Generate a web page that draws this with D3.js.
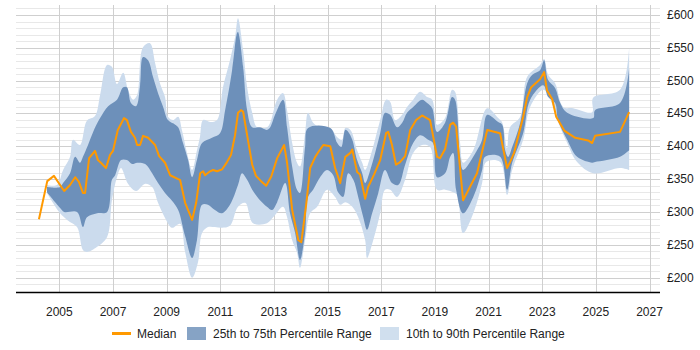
<!DOCTYPE html>
<html>
<head>
<meta charset="utf-8">
<script src="https://cdn.jsdelivr.net/npm/d3@7"></script>
<style>
  html, body { margin: 0; padding: 0; background: #fff; }
  svg { display: block; font-family: "Liberation Sans", Arial, sans-serif; }
</style>
</head>
<body>
<svg id="chart" width="700" height="350"></svg>
<script>
// ---------- DATA (years as decimal, values in £) ----------
const medianDates = [2004.24,2004.55,2004.80,2005.18,2005.40,2005.59,2005.73,2005.88,2005.96,2006.11,2006.33,2006.44,2006.55,2006.74,2006.89,2007.00,2007.18,2007.41,2007.52,2007.67,2007.82,2007.90,2008.01,2008.12,2008.31,2008.57,2008.72,2008.94,2009.13,2009.43,2009.50,2009.69,2009.80,2009.95,2010.10,2010.25,2010.36,2010.43,2010.62,2010.73,2010.88,2011.07,2011.25,2011.40,2011.55,2011.66,2011.77,2011.85,2012.00,2012.19,2012.33,2012.52,2012.71,2012.90,2013.12,2013.38,2013.49,2013.68,2013.91,2014.02,2014.20,2014.35,2014.54,2014.65,2014.84,2015.10,2015.28,2015.47,2015.66,2015.85,2015.92,2016.10,2016.21,2016.40,2016.51,2016.73,2016.96,2017.18,2017.26,2017.40,2017.55,2017.70,2017.89,2018.08,2018.30,2018.52,2018.82,2019.08,2019.19,2019.38,2019.57,2019.68,2019.79,2020.05,2020.57,2020.95,2021.43,2021.69,2021.80,2021.95,2022.29,2022.44,2022.59,2022.92,2023.07,2023.18,2023.37,2023.52,2023.82,2024.23,2024.71,2024.86,2024.97,2025.90,2026.24];
const median = [289,347,355,332,341,353,346,329,329,382,393,379,375,367,387,393,425,443,440,422,413,402,402,416,413,402,385,375,356,350,349,314,303,288,314,359,362,356,362,364,362,365,376,387,417,451,455,453,417,372,355,347,340,354,382,402,375,303,257,254,311,367,384,391,402,400,367,344,384,390,395,361,357,320,338,357,379,420,422,402,372,376,385,425,440,447,440,384,382,396,433,436,430,318,359,425,420,367,376,390,445,475,490,502,513,485,472,445,424,413,409,405,416,422,452];

const p90Dates = [2004.54,2004.91,2005.14,2005.40,2005.51,2005.77,2006.03,2006.33,2006.52,2006.78,2006.96,2007.15,2007.38,2007.56,2007.75,2007.90,2008.12,2008.38,2008.57,2008.75,2008.94,2009.05,2009.24,2009.43,2009.57,2009.76,2009.95,2010.13,2010.24,2010.36,2010.62,2010.88,2011.10,2011.36,2011.55,2011.66,2011.85,2012.00,2012.19,2012.37,2012.74,2012.86,2013.12,2013.34,2013.49,2013.68,2013.86,2013.97,2014.16,2014.27,2014.46,2014.72,2015.10,2015.36,2015.54,2015.66,2015.85,2016.10,2016.29,2016.40,2016.59,2016.96,2017.18,2017.33,2017.52,2017.78,2017.96,2018.19,2018.45,2018.71,2018.90,2019.08,2019.38,2019.64,2019.75,2019.94,2020.05,2020.43,2020.95,2021.36,2021.51,2021.69,2021.80,2022.18,2022.44,2022.92,2023.07,2023.22,2023.48,2023.78,2024.15,2024.86,2024.90,2025.90,2026.24];
const p90 = [341,341,364,384,410,402,439,446,478,524,521,495,512,486,471,478,551,557,527,496,475,445,440,445,425,390,364,394,414,440,437,440,490,531,566,595,547,490,451,429,429,436,471,481,455,405,375,369,420,451,436,429,428,414,410,428,425,394,375,364,384,440,471,468,440,448,460,471,483,475,471,433,443,486,483,405,375,394,458,443,436,397,429,445,506,524,533,509,496,460,458,452,474,486,551];

const p75Dates = [2004.54,2004.84,2005.03,2005.14,2005.40,2005.59,2005.77,2005.88,2006.07,2006.26,2006.52,2006.82,2007.15,2007.38,2007.52,2007.67,2007.86,2008.01,2008.12,2008.31,2008.49,2008.68,2008.87,2009.05,2009.32,2009.43,2009.61,2009.80,2009.95,2010.13,2010.32,2010.69,2010.99,2011.18,2011.44,2011.63,2011.66,2011.85,2012.00,2012.19,2012.48,2012.74,2012.86,2013.04,2013.34,2013.49,2013.68,2013.86,2013.97,2014.16,2014.27,2015.10,2015.36,2015.51,2015.66,2015.77,2015.92,2016.10,2016.29,2016.40,2016.59,2016.96,2017.14,2017.33,2017.59,2017.78,2017.96,2018.19,2018.52,2018.71,2018.90,2019.08,2019.38,2019.64,2019.75,2019.94,2020.05,2020.57,2020.76,2020.95,2021.36,2021.51,2021.62,2021.73,2021.88,2022.18,2022.44,2022.63,2022.92,2023.07,2023.22,2023.48,2023.67,2023.93,2024.90,2024.97,2025.90,2026.24];
const p75 = [338,337,338,344,359,384,375,384,402,422,443,461,471,490,490,466,461,493,536,531,506,481,460,440,433,429,405,379,353,379,405,413,420,455,516,573,574,521,455,429,429,425,429,448,471,429,369,334,329,399,428,428,405,399,425,422,410,379,359,344,364,420,451,448,429,436,451,460,471,466,458,422,436,475,471,384,364,394,410,448,437,433,394,384,399,436,496,509,516,531,501,489,466,451,443,455,466,519];

const p25Dates = [2004.54,2005.03,2005.18,2005.66,2005.88,2006.03,2006.41,2006.78,2006.96,2007.08,2007.30,2007.52,2007.71,2007.90,2008.20,2008.46,2008.68,2008.94,2009.20,2009.43,2009.69,2009.95,2010.13,2010.32,2010.54,2010.80,2011.06,2011.36,2011.66,2011.81,2012.00,2012.19,2012.48,2012.74,2012.93,2013.12,2013.42,2013.60,2013.79,2013.97,2014.16,2014.27,2014.46,2014.72,2014.98,2015.21,2015.39,2015.58,2015.77,2015.96,2016.14,2016.33,2016.47,2016.66,2016.89,2017.14,2017.40,2017.63,2017.89,2018.19,2018.45,2018.75,2018.93,2019.08,2019.38,2019.57,2019.68,2019.79,2020.05,2020.43,2020.76,2020.87,2021.43,2021.69,2021.88,2022.29,2022.55,2023.04,2023.22,2023.48,2023.59,2023.93,2024.30,2024.86,2024.97,2025.90,2026.24];
const p25 = [330,306,300,300,277,292,298,300,349,356,379,379,373,375,373,359,344,329,317,303,263,230,257,311,311,303,298,311,341,359,349,334,318,308,303,315,344,298,268,227,268,323,334,353,364,356,330,323,359,349,323,292,273,298,329,364,344,341,372,405,417,410,405,353,359,384,390,334,298,323,364,384,384,334,375,420,471,493,475,466,440,410,384,375,376,384,394];

const p10Dates = [2004.54,2005.03,2005.29,2005.66,2005.88,2006.03,2006.41,2006.78,2006.96,2007.15,2007.30,2007.56,2007.86,2008.20,2008.46,2008.68,2008.94,2009.20,2009.50,2009.69,2009.95,2010.17,2010.32,2010.54,2010.80,2011.06,2011.36,2011.66,2011.93,2012.22,2012.74,2012.97,2013.34,2013.49,2013.68,2013.86,2013.97,2014.16,2014.35,2014.61,2014.98,2015.28,2015.47,2015.66,2015.92,2016.14,2016.40,2016.47,2016.70,2016.96,2017.14,2017.33,2017.59,2017.89,2018.19,2018.52,2018.82,2019.08,2019.38,2019.68,2019.83,2020.05,2020.43,2020.76,2020.91,2021.43,2021.69,2021.88,2022.29,2022.55,2023.04,2023.30,2023.67,2023.93,2024.30,2024.90,2025.90,2026.24];
const p10 = [329,298,288,277,242,239,247,262,318,353,367,343,332,343,338,314,291,276,282,239,200,224,268,277,277,276,279,308,314,283,283,292,308,292,257,238,215,257,298,308,334,323,311,315,308,292,257,230,257,298,334,334,323,349,390,402,399,334,334,330,326,268,298,344,376,376,326,364,410,460,486,471,429,405,376,359,367,364];

const xTicks = [2005,2007,2009,2011,2013,2015,2017,2019,2021,2023,2025,2027];
const yTicks = [200,250,300,350,400,450,500,550,600];
const legendLabels = ["Median","25th to 75th Percentile Range","10th to 90th Percentile Range"];

// ---------- DRAW ----------
(function () {
  const svg = d3.select("#chart");
  const pL = 16, pR = 660, pT = 5, pB = 292;
  const x = d3.scaleLinear().domain([2003.385, 2027.39]).range([pL, pR]);
  const y = d3.scaleLinear().domain([178.2, 615.2]).range([pB, pT]);

  const COL_MED = "#ff9900", COL_DARK = "#6d90ba", COL_LIGHT = "#cbdbed";

  const minor = d3.range(190, 611, 10).filter(v => v % 50 !== 0);
  svg.append("g").selectAll("line").data(minor).join("line")
    .attr("x1", pL).attr("x2", pR)
    .attr("y1", d => Math.round(y(d)) + 0.5).attr("y2", d => Math.round(y(d)) + 0.5)
    .attr("stroke", "#e8e8e8").attr("stroke-width", 1);
  svg.append("g").selectAll("line").data(yTicks).join("line")
    .attr("x1", pL).attr("x2", pR)
    .attr("y1", d => Math.round(y(d)) + 0.5).attr("y2", d => Math.round(y(d)) + 0.5)
    .attr("stroke", "#cfcfcf").attr("stroke-width", 1);
  svg.append("g").selectAll("line").data(xTicks).join("line")
    .attr("x1", d => Math.round(x(d)) + 0.5).attr("x2", d => Math.round(x(d)) + 0.5)
    .attr("y1", pT).attr("y2", pB)
    .attr("stroke", "#cfcfcf").attr("stroke-width", 1);

  const zip = (ds, vs) => ds.map((d, i) => [d, vs[i]]);
  const line = d3.line().x(d => x(d[0])).y(d => y(d[1]));
  const smooth = d3.line().x(d => x(d[0])).y(d => y(d[1])).curve(d3.curveCatmullRom.alpha(0.5));
  const band = (topPts, botPts) => {
    const a = smooth(topPts);
    const b = smooth(botPts.slice().reverse()).replace(/^M/, "L");
    return a + b + "Z";
  };

  svg.append("path").attr("d", band(zip(p90Dates, p90), zip(p10Dates, p10)))
    .attr("fill", COL_LIGHT);
  svg.append("path").attr("d", band(zip(p75Dates, p75), zip(p25Dates, p25)))
    .attr("fill", COL_DARK);

  svg.append("path").attr("d", line(zip(medianDates, median)))
    .attr("fill", "none").attr("stroke", COL_MED).attr("stroke-width", 2)
    .attr("stroke-linejoin", "round");

  svg.append("line").attr("x1", pL).attr("x2", pR)
    .attr("y1", pB + 0.5).attr("y2", pB + 0.5)
    .attr("stroke", "#000").attr("stroke-width", 1.5);

  svg.append("g").selectAll("text").data(xTicks).join("text")
    .attr("x", d => x(d)).attr("y", 316)
    .attr("text-anchor", "middle").attr("font-size", 12).attr("fill", "#222")
    .text(d => d);

  svg.append("g").selectAll("text").data(yTicks).join("text")
    .attr("x", 667).attr("y", d => y(d) + 4)
    .attr("text-anchor", "start").attr("font-size", 12).attr("fill", "#222")
    .text(d => "£" + d);

  const lg = svg.append("g").attr("font-size", 12).attr("fill", "#222");
  lg.append("line").attr("x1", 112).attr("x2", 131).attr("y1", 333.5).attr("y2", 333.5)
    .attr("stroke", COL_MED).attr("stroke-width", 3);
  lg.append("text").attr("x", 137).attr("y", 337.5).text(legendLabels[0]);
  lg.append("rect").attr("x", 187).attr("y", 327).attr("width", 19).attr("height", 13).attr("fill", "#86a3c5");
  lg.append("text").attr("x", 213).attr("y", 337.5).text(legendLabels[1]);
  lg.append("rect").attr("x", 380).attr("y", 327).attr("width", 19).attr("height", 13).attr("fill", "#d0dfee");
  lg.append("text").attr("x", 406).attr("y", 337.5).text(legendLabels[2]);
})();
</script>
</body>
</html>
